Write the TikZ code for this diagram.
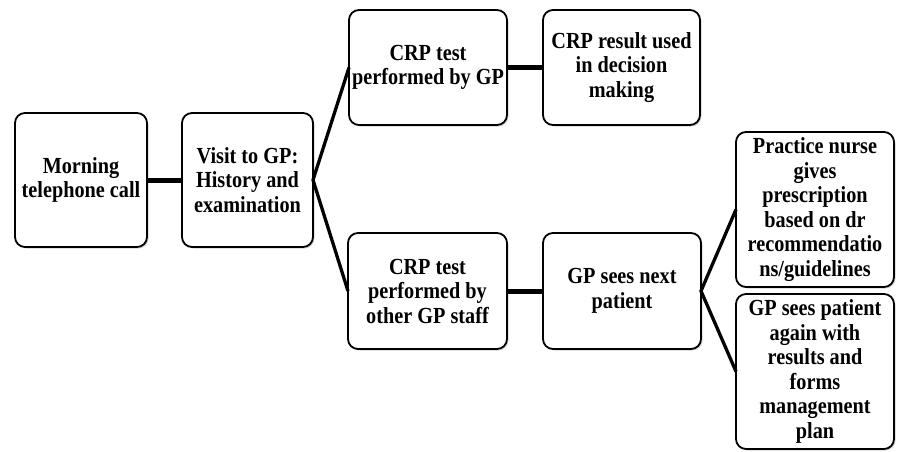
\documentclass[tikz,border=0pt]{standalone}
\usepackage{fontspec}
\setmainfont{Liberation Serif}[FakeStretch=0.88]
\usepackage{tikz}
\usetikzlibrary{shadows}

\begin{document}
\begin{tikzpicture}[x=1pt,y=1pt,
    stepbox/.style={draw,line width=1.8pt,rounded corners=10pt,fill=white,
      align=center,inner sep=0pt,outer sep=0pt,
      font=\bfseries\fontsize{23}{24.5}\selectfont,
      drop shadow={shadow xshift=1.5pt,shadow yshift=-1.5pt,opacity=0.35}},
    link/.style={line width=5pt},
    fork/.style={line width=3.3pt,line join=miter}]
            \useasboundingbox (0,0) rectangle (897,-452); %枠
            \node[stepbox,minimum width=132pt,minimum height=134pt] (call) at (81,-180) {Morning\\telephone call};
            \node[stepbox,minimum width=131pt,minimum height=134pt] (visit) at (247.5,-180) {Visit to GP:\\History and\\examination};
            \node[stepbox,minimum width=158pt,minimum height=115pt] (gptest) at (428,-67.5) {CRP test\\performed by GP};
            \node[stepbox,minimum width=157pt,minimum height=115pt] (result) at (621.5,-67.5) {CRP result used\\in decision\\making};
            \node[stepbox,minimum width=159pt,minimum height=116pt] (stafftest) at (427.5,-291) {CRP test\\performed by\\other GP staff};
            \node[stepbox,minimum width=158pt,minimum height=116pt] (next) at (622,-291) {GP sees next\\patient};
            \node[stepbox,minimum width=158pt,minimum height=155pt] (nurse) at (815,-209.5) {Practice nurse\\gives\\prescription\\based on dr\\recommendatio\\ns/guidelines};
            \node[stepbox,minimum width=158pt,minimum height=155pt] (again) at (815,-371.5) {GP sees patient\\again with\\results and\\forms\\management\\plan};
            \draw[link] (call.east) --(visit.west); %電話→受診
            \draw[fork] (gptest.west) --(visit.east) --(stafftest.west); %分岐1
            \draw[link] (gptest.east) --(result.west);
            \draw[link] (stafftest.east) --(next.west);
            \draw[fork] (nurse.west) --(next.east) --(again.west); %分岐2
        \end{tikzpicture}
\end{document}
